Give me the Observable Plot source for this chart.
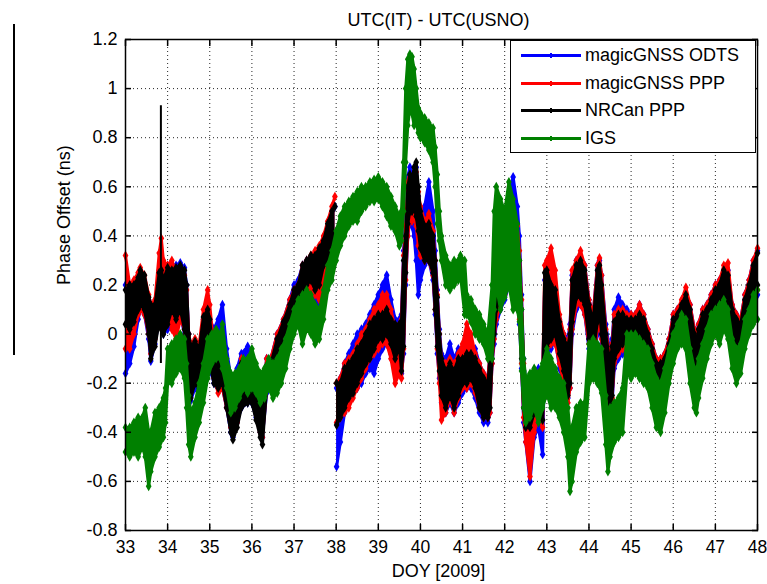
<!DOCTYPE html>
<html>
<head>
<meta charset="utf-8">
<script src="https://cdn.jsdelivr.net/npm/d3@7"></script>
<script src="https://cdn.jsdelivr.net/npm/@observablehq/plot@0.6"></script>
<style>
body{margin:0;background:#fff;}
#wrap{position:relative;width:767px;height:584px;font-family:"Liberation Sans",Arial,Helvetica,sans-serif;}
#artifact{position:absolute;left:13px;top:24px;width:2px;height:331px;background:#000;}
#legend{position:absolute;left:510px;top:40px;width:246px;height:113px;border:1px solid #000;background:#fff;box-sizing:border-box;}
.sw{position:absolute;left:10px;width:60px;height:3px;}
.mk{position:absolute;left:39px;width:2px;height:5px;}
.lab{position:absolute;left:74px;font-size:18px;line-height:20px;white-space:nowrap;color:#000;}
</style>
</head>
<body>
<div id="wrap"><div id="artifact"></div><div id="chart"></div><div id="legend"></div></div>
<script>
const titleText = "UTC(IT) - UTC(USNO)";
const xLabelText = "DOY [2009]";
const yLabelText = "Phase Offset (ns)";
const seriesNames = ["magicGNSS ODTS", "magicGNSS PPP", "NRCan PPP", "IGS"];
const seriesColors = ["#0000ff", "#ff0000", "#000000", "#008000"];
const xTicks = [33,34,35,36,37,38,39,40,41,42,43,44,45,46,47,48];
const yTicks = [-0.8,-0.6,-0.4,-0.2,0,0.2,0.4,0.6,0.8,1,1.2];

// [DOY, low edge, high edge] of each series' scatter band (ns)
const odts = [[33.00,-0.16,0.20],[33.10,-0.12,0.16],[33.20,-0.05,0.20],[33.30,0.06,0.22],[33.35,0.10,0.24],[33.45,0.08,0.22],[33.55,-0.02,0.14],[33.60,-0.11,0.10],[33.70,-0.04,0.12],[33.80,0.06,0.26],[33.85,0.04,0.27],[33.90,0.00,0.24],[34.00,0.02,0.28],[34.10,0.04,0.28],[34.20,0.02,0.28],[34.30,0.08,0.29],[34.40,0.00,0.27],[34.45,-0.12,0.20],[34.50,-0.22,0.00],[34.55,-0.27,-0.06],[34.65,-0.22,-0.04],[34.75,-0.24,-0.06],[34.85,-0.16,0.06],[34.95,-0.10,0.12],[35.00,-0.14,0.06],[35.10,-0.20,0.02],[35.20,-0.22,0.06],[35.30,-0.22,0.12],[35.40,-0.30,-0.06],[35.50,-0.40,-0.18],[35.55,-0.42,-0.24],[35.65,-0.36,-0.14],[35.75,-0.30,-0.08],[35.90,-0.28,-0.05],[36.00,-0.28,-0.10],[36.10,-0.34,-0.18],[36.20,-0.40,-0.22],[36.25,-0.42,-0.26],[36.35,-0.24,-0.10],[36.45,-0.20,-0.10],[36.60,-0.16,0.00],[36.75,-0.08,0.06],[36.90,0.00,0.14],[37.00,0.04,0.20],[37.10,0.06,0.22],[37.20,0.10,0.28],[37.30,0.12,0.30],[37.40,0.14,0.30],[37.50,0.12,0.30],[37.60,0.12,0.34],[37.70,0.22,0.38],[37.80,0.26,0.44],[37.90,0.34,0.50],[37.97,0.38,0.52],[37.99,null,null],[38.01,-0.54,-0.22],[38.10,-0.44,-0.18],[38.20,-0.32,-0.12],[38.30,-0.28,-0.08],[38.40,-0.24,-0.04],[38.50,-0.22,0.00],[38.60,-0.20,0.02],[38.70,-0.16,0.04],[38.80,-0.14,0.08],[38.90,-0.16,0.12],[39.00,-0.10,0.16],[39.10,-0.06,0.20],[39.20,-0.04,0.24],[39.30,-0.08,0.14],[39.40,-0.14,0.06],[39.50,-0.15,0.06],[39.55,-0.16,0.08],[39.60,-0.08,0.34],[39.65,0.20,0.48],[39.70,0.40,0.64],[39.75,0.46,0.68],[39.80,0.44,0.64],[39.85,0.40,0.66],[39.90,0.30,0.68],[39.95,0.16,0.56],[40.00,0.22,0.50],[40.10,0.28,0.52],[40.20,0.30,0.62],[40.30,0.22,0.50],[40.35,0.08,0.34],[40.40,-0.08,0.18],[40.45,-0.18,0.02],[40.50,-0.28,-0.08],[40.60,-0.32,-0.10],[40.70,-0.28,-0.04],[40.80,-0.32,-0.10],[40.90,-0.28,-0.06],[41.00,-0.24,-0.06],[41.10,-0.22,-0.02],[41.20,-0.22,-0.04],[41.30,-0.26,-0.06],[41.40,-0.32,-0.12],[41.50,-0.36,-0.16],[41.60,-0.36,-0.18],[41.65,-0.32,-0.08],[41.70,-0.12,0.08],[41.75,-0.04,0.20],[41.80,0.04,0.36],[41.90,0.10,0.46],[42.00,0.14,0.50],[42.10,0.20,0.56],[42.20,0.18,0.64],[42.30,0.14,0.52],[42.35,0.04,0.40],[42.40,-0.14,0.16],[42.45,-0.36,-0.10],[42.50,-0.44,-0.20],[42.60,-0.60,-0.18],[42.70,-0.42,-0.16],[42.80,-0.38,-0.14],[42.90,-0.49,-0.18],[42.95,-0.06,0.22],[43.00,-0.08,0.24],[43.10,-0.06,0.22],[43.20,-0.02,0.20],[43.30,-0.14,0.06],[43.40,-0.20,0.00],[43.50,-0.26,-0.02],[43.55,-0.22,0.04],[43.60,0.00,0.24],[43.70,0.10,0.30],[43.80,0.12,0.30],[43.90,0.08,0.28],[44.00,-0.06,0.14],[44.10,-0.12,0.08],[44.20,0.00,0.28],[44.25,0.04,0.30],[44.30,-0.04,0.24],[44.40,-0.24,0.04],[44.50,-0.32,-0.08],[44.55,-0.28,-0.02],[44.60,-0.14,0.10],[44.70,-0.10,0.15],[44.80,-0.08,0.12],[44.90,-0.06,0.10],[45.00,-0.08,0.08],[45.10,-0.08,0.08],[45.20,-0.06,0.12],[45.30,-0.10,0.08],[45.40,-0.16,0.02],[45.50,-0.22,-0.04],[45.60,-0.28,-0.10],[45.70,-0.28,-0.10],[45.80,-0.24,-0.08],[45.90,-0.18,-0.02],[46.00,-0.10,0.08],[46.10,-0.04,0.10],[46.20,-0.02,0.12],[46.30,0.02,0.16],[46.40,-0.08,0.12],[46.50,-0.14,0.02],[46.55,-0.16,-0.02],[46.60,-0.12,0.04],[46.70,-0.06,0.10],[46.80,-0.02,0.12],[46.90,0.02,0.16],[47.00,0.06,0.20],[47.10,0.08,0.22],[47.20,0.12,0.26],[47.30,0.08,0.26],[47.40,-0.04,0.12],[47.50,-0.08,0.08],[47.60,-0.08,0.06],[47.70,0.00,0.16],[47.80,0.06,0.22],[47.90,0.12,0.30],[48.00,0.16,0.34]];

const ppp = [[33.00,-0.06,0.32],[33.10,-0.06,0.20],[33.20,0.00,0.22],[33.30,0.08,0.25],[33.35,0.10,0.27],[33.45,0.08,0.24],[33.55,0.00,0.16],[33.60,-0.08,0.12],[33.70,-0.02,0.14],[33.80,0.10,0.33],[33.85,0.08,0.39],[33.90,0.04,0.30],[34.00,0.08,0.28],[34.10,0.02,0.30],[34.20,-0.02,0.25],[34.30,0.06,0.26],[34.40,0.02,0.24],[34.45,-0.08,0.18],[34.50,-0.18,0.00],[34.55,-0.24,-0.04],[34.65,-0.18,-0.02],[34.75,-0.20,-0.04],[34.85,-0.12,0.10],[34.95,-0.06,0.18],[35.00,-0.10,0.12],[35.10,-0.18,-0.06],[35.20,-0.24,-0.14],[35.30,-0.22,-0.10],[35.40,-0.30,-0.18],[35.50,-0.38,-0.22],[35.55,-0.40,-0.28],[35.65,-0.36,-0.20],[35.75,-0.28,-0.10],[35.90,-0.26,-0.12],[36.00,-0.26,-0.14],[36.10,-0.32,-0.20],[36.20,-0.40,-0.22],[36.25,-0.42,-0.24],[36.35,-0.22,-0.10],[36.45,-0.18,-0.10],[36.60,-0.14,0.00],[36.75,-0.06,0.06],[36.90,0.02,0.14],[37.00,0.06,0.18],[37.10,0.08,0.20],[37.20,0.14,0.28],[37.30,0.16,0.30],[37.40,0.16,0.32],[37.50,0.16,0.34],[37.60,0.14,0.36],[37.70,0.24,0.40],[37.80,0.28,0.46],[37.90,0.36,0.52],[37.97,0.40,0.56],[37.99,null,null],[38.01,-0.36,-0.20],[38.10,-0.34,-0.18],[38.20,-0.32,-0.12],[38.30,-0.30,-0.10],[38.40,-0.26,-0.08],[38.50,-0.22,-0.04],[38.60,-0.18,0.00],[38.70,-0.14,0.02],[38.80,-0.10,0.06],[38.90,-0.08,0.10],[39.00,-0.06,0.12],[39.10,-0.04,0.16],[39.20,-0.04,0.16],[39.30,-0.10,0.10],[39.40,-0.20,0.02],[39.50,-0.16,0.04],[39.55,-0.18,0.06],[39.60,-0.06,0.32],[39.65,0.22,0.44],[39.70,0.40,0.62],[39.75,0.48,0.64],[39.80,0.46,0.62],[39.85,0.48,0.64],[39.90,0.44,0.66],[39.95,0.36,0.58],[40.00,0.32,0.52],[40.10,0.30,0.46],[40.20,0.30,0.49],[40.30,0.24,0.42],[40.35,0.10,0.30],[40.40,-0.06,0.16],[40.45,-0.20,0.00],[40.50,-0.35,-0.10],[40.60,-0.32,-0.12],[40.70,-0.26,-0.10],[40.80,-0.32,-0.12],[40.90,-0.26,-0.08],[41.00,-0.22,-0.04],[41.10,-0.22,0.04],[41.20,-0.20,0.00],[41.30,-0.24,-0.08],[41.40,-0.30,-0.12],[41.50,-0.34,-0.16],[41.60,-0.34,-0.18],[41.65,-0.32,-0.08],[41.70,-0.12,0.08],[41.75,-0.02,0.18],[41.80,0.06,0.34],[41.90,0.12,0.44],[42.00,0.16,0.46],[42.10,0.22,0.48],[42.20,0.20,0.50],[42.30,0.16,0.44],[42.35,0.06,0.34],[42.40,-0.12,0.14],[42.45,-0.34,-0.12],[42.50,-0.44,-0.22],[42.60,-0.58,-0.20],[42.70,-0.40,-0.18],[42.80,-0.34,-0.16],[42.90,-0.38,-0.18],[42.95,-0.04,0.28],[43.00,-0.06,0.30],[43.10,-0.04,0.35],[43.20,-0.04,0.26],[43.30,-0.12,0.08],[43.40,-0.20,0.00],[43.50,-0.28,-0.04],[43.55,-0.22,0.02],[43.60,0.02,0.26],[43.70,0.12,0.30],[43.80,0.12,0.34],[43.90,0.08,0.28],[44.00,-0.04,0.14],[44.10,-0.10,0.08],[44.20,0.02,0.28],[44.25,0.06,0.31],[44.30,-0.02,0.24],[44.40,-0.22,0.02],[44.50,-0.32,-0.10],[44.55,-0.26,-0.04],[44.60,-0.12,0.08],[44.70,-0.08,0.10],[44.80,-0.06,0.10],[44.90,-0.04,0.08],[45.00,-0.06,0.08],[45.10,-0.08,0.08],[45.20,-0.06,0.12],[45.30,-0.08,0.08],[45.40,-0.14,0.02],[45.50,-0.20,-0.04],[45.60,-0.28,-0.10],[45.70,-0.28,-0.10],[45.80,-0.24,-0.08],[45.90,-0.18,-0.02],[46.00,-0.08,0.08],[46.10,-0.02,0.10],[46.20,0.00,0.14],[46.30,0.04,0.19],[46.40,-0.06,0.12],[46.50,-0.14,0.02],[46.55,-0.16,-0.02],[46.60,-0.12,0.04],[46.70,-0.04,0.10],[46.80,0.00,0.12],[46.90,0.04,0.16],[47.00,0.08,0.20],[47.10,0.10,0.22],[47.20,0.14,0.28],[47.30,0.10,0.29],[47.40,-0.02,0.12],[47.50,-0.06,0.08],[47.60,-0.08,0.06],[47.70,0.02,0.16],[47.80,0.08,0.22],[47.90,0.14,0.30],[48.00,0.18,0.35]];

const nrcan = [[33.00,0.04,0.18],[33.10,0.02,0.20],[33.20,0.05,0.20],[33.30,0.10,0.23],[33.35,0.12,0.26],[33.45,0.10,0.24],[33.55,0.00,0.15],[33.60,-0.10,0.12],[33.70,-0.05,0.12],[33.80,0.05,0.25],[33.85,0.02,0.26],[33.90,0.00,0.22],[34.00,0.04,0.27],[34.10,0.10,0.26],[34.20,0.06,0.27],[34.30,0.10,0.28],[34.40,0.02,0.26],[34.45,-0.10,0.20],[34.50,-0.20,0.00],[34.55,-0.26,-0.05],[34.65,-0.20,-0.03],[34.75,-0.22,-0.06],[34.85,-0.15,0.07],[34.95,-0.10,0.10],[35.00,-0.12,0.06],[35.10,-0.20,-0.10],[35.20,-0.22,-0.12],[35.30,-0.20,-0.10],[35.40,-0.30,-0.20],[35.50,-0.40,-0.25],[35.55,-0.43,-0.30],[35.65,-0.38,-0.22],[35.75,-0.30,-0.12],[35.90,-0.28,-0.14],[36.00,-0.28,-0.16],[36.10,-0.35,-0.22],[36.20,-0.42,-0.25],[36.25,-0.45,-0.28],[36.35,-0.22,-0.13],[36.45,-0.19,-0.12],[36.60,-0.14,-0.02],[36.75,-0.05,0.05],[36.90,0.05,0.12],[37.00,0.10,0.18],[37.10,0.12,0.20],[37.20,0.18,0.28],[37.30,0.20,0.30],[37.40,0.22,0.32],[37.50,0.18,0.32],[37.60,0.20,0.35],[37.70,0.28,0.38],[37.80,0.30,0.45],[37.90,0.38,0.50],[37.97,0.40,0.52],[37.99,null,null],[38.01,-0.37,-0.20],[38.10,-0.34,-0.20],[38.20,-0.30,-0.14],[38.30,-0.26,-0.12],[38.40,-0.24,-0.10],[38.50,-0.20,-0.06],[38.60,-0.16,-0.04],[38.70,-0.12,0.00],[38.80,-0.10,0.04],[38.90,-0.06,0.06],[39.00,-0.02,0.08],[39.10,-0.02,0.08],[39.20,0.00,0.10],[39.30,-0.04,0.06],[39.40,-0.10,0.04],[39.50,-0.05,0.04],[39.55,-0.15,0.05],[39.60,-0.05,0.30],[39.65,0.25,0.40],[39.70,0.45,0.60],[39.75,0.50,0.65],[39.80,0.50,0.62],[39.85,0.52,0.68],[39.90,0.48,0.70],[39.95,0.42,0.60],[40.00,0.35,0.50],[40.10,0.30,0.44],[40.20,0.30,0.45],[40.30,0.25,0.40],[40.35,0.10,0.30],[40.40,-0.05,0.15],[40.45,-0.15,0.00],[40.50,-0.25,-0.10],[40.60,-0.30,-0.15],[40.70,-0.25,-0.12],[40.80,-0.30,-0.15],[40.90,-0.25,-0.10],[41.00,-0.20,-0.10],[41.10,-0.20,-0.08],[41.20,-0.18,-0.08],[41.30,-0.22,-0.10],[41.40,-0.30,-0.14],[41.50,-0.34,-0.18],[41.60,-0.34,-0.20],[41.65,-0.30,-0.10],[41.70,-0.10,0.05],[41.75,0.00,0.15],[41.80,0.10,0.30],[41.90,0.15,0.40],[42.00,0.20,0.42],[42.10,0.26,0.42],[42.20,0.25,0.40],[42.30,0.20,0.36],[42.35,0.10,0.30],[42.40,-0.10,0.10],[42.45,-0.30,-0.15],[42.50,-0.38,-0.25],[42.60,-0.38,-0.22],[42.70,-0.32,-0.20],[42.80,-0.30,-0.18],[42.90,-0.35,-0.22],[42.95,0.00,0.25],[43.00,-0.05,0.26],[43.10,-0.02,0.20],[43.20,0.00,0.18],[43.30,-0.08,0.05],[43.40,-0.15,-0.02],[43.50,-0.25,-0.05],[43.55,-0.20,0.00],[43.60,0.05,0.22],[43.70,0.15,0.28],[43.80,0.15,0.30],[43.90,0.12,0.26],[44.00,-0.02,0.12],[44.10,-0.08,0.05],[44.20,0.05,0.26],[44.25,0.10,0.28],[44.30,0.00,0.20],[44.40,-0.20,0.00],[44.50,-0.30,-0.12],[44.55,-0.25,-0.05],[44.60,-0.10,0.05],[44.70,-0.06,0.08],[44.80,-0.04,0.08],[44.90,-0.02,0.06],[45.00,-0.04,0.06],[45.10,-0.06,0.06],[45.20,-0.04,0.08],[45.30,-0.06,0.06],[45.40,-0.12,0.00],[45.50,-0.18,-0.06],[45.60,-0.26,-0.12],[45.70,-0.26,-0.12],[45.80,-0.22,-0.10],[45.90,-0.16,-0.04],[46.00,-0.06,0.06],[46.10,0.00,0.08],[46.20,0.02,0.12],[46.30,0.06,0.16],[46.40,-0.05,0.10],[46.50,-0.12,0.00],[46.55,-0.14,-0.04],[46.60,-0.10,0.02],[46.70,-0.02,0.08],[46.80,0.02,0.10],[46.90,0.06,0.14],[47.00,0.10,0.18],[47.10,0.12,0.20],[47.20,0.16,0.26],[47.30,0.12,0.24],[47.40,0.00,0.10],[47.50,-0.05,0.06],[47.60,-0.06,0.04],[47.70,0.04,0.14],[47.80,0.10,0.20],[47.90,0.16,0.28],[48.00,0.20,0.33]];

const igs = [[33.00,-0.48,-0.38],[33.10,-0.50,-0.38],[33.20,-0.48,-0.36],[33.30,-0.50,-0.34],[33.40,-0.46,-0.34],[33.47,-0.50,-0.30],[33.55,-0.62,-0.40],[33.60,-0.56,-0.40],[33.70,-0.50,-0.32],[33.80,-0.46,-0.30],[33.90,-0.42,-0.26],[33.95,-0.36,-0.22],[34.00,-0.20,-0.06],[34.10,-0.20,-0.04],[34.20,-0.16,-0.02],[34.30,-0.14,0.00],[34.40,-0.18,-0.02],[34.45,-0.30,-0.12],[34.50,-0.45,-0.25],[34.55,-0.50,-0.32],[34.65,-0.42,-0.28],[34.75,-0.36,-0.20],[34.85,-0.28,-0.12],[34.95,-0.18,-0.02],[35.05,-0.12,0.00],[35.15,-0.10,0.02],[35.25,-0.10,0.00],[35.30,-0.14,0.04],[35.40,-0.22,-0.10],[35.50,-0.32,-0.16],[35.60,-0.30,-0.16],[35.70,-0.26,-0.14],[35.80,-0.22,-0.10],[35.90,-0.24,-0.10],[36.00,-0.22,-0.06],[36.10,-0.24,-0.12],[36.20,-0.28,-0.16],[36.30,-0.26,-0.14],[36.40,-0.22,-0.10],[36.50,-0.26,-0.12],[36.60,-0.24,-0.10],[36.70,-0.20,-0.06],[36.80,-0.14,-0.02],[36.90,-0.06,0.04],[37.00,0.00,0.10],[37.10,0.04,0.14],[37.20,-0.04,0.16],[37.30,0.02,0.18],[37.40,0.00,0.16],[37.50,-0.04,0.12],[37.60,-0.02,0.10],[37.70,0.06,0.18],[37.80,0.18,0.28],[37.90,0.22,0.34],[38.00,0.30,0.42],[38.10,0.36,0.48],[38.20,0.40,0.52],[38.30,0.44,0.54],[38.40,0.46,0.56],[38.50,0.46,0.58],[38.60,0.50,0.60],[38.70,0.52,0.60],[38.80,0.54,0.62],[38.90,0.54,0.63],[39.00,0.55,0.64],[39.10,0.52,0.62],[39.20,0.48,0.60],[39.30,0.44,0.56],[39.40,0.42,0.52],[39.50,0.36,0.48],[39.55,0.38,0.50],[39.60,0.50,0.70],[39.65,0.70,1.00],[39.70,0.85,1.12],[39.75,0.92,1.14],[39.80,0.90,1.13],[39.85,0.85,1.08],[39.90,0.86,1.00],[39.95,0.82,0.92],[40.00,0.80,0.90],[40.10,0.78,0.88],[40.20,0.75,0.86],[40.30,0.70,0.84],[40.35,0.60,0.76],[40.40,0.45,0.65],[40.45,0.38,0.50],[40.50,0.30,0.40],[40.60,0.20,0.32],[40.70,0.18,0.28],[40.80,0.20,0.30],[40.90,0.22,0.30],[40.95,0.24,0.32],[41.05,0.08,0.30],[41.10,0.08,0.16],[41.20,0.05,0.14],[41.30,0.00,0.10],[41.40,-0.02,0.08],[41.50,-0.04,0.04],[41.60,-0.10,0.00],[41.70,-0.10,0.20],[41.75,0.10,0.50],[41.80,0.20,0.60],[41.90,0.10,0.55],[42.00,0.15,0.50],[42.10,0.20,0.62],[42.20,0.10,0.55],[42.30,0.10,0.45],[42.35,0.05,0.30],[42.40,-0.15,0.10],[42.45,-0.30,-0.10],[42.50,-0.36,-0.18],[42.60,-0.34,-0.16],[42.70,-0.30,-0.14],[42.80,-0.36,-0.16],[42.90,-0.30,-0.12],[43.00,-0.24,-0.06],[43.10,-0.30,-0.10],[43.20,-0.30,-0.14],[43.30,-0.34,-0.18],[43.40,-0.40,-0.20],[43.50,-0.50,-0.30],[43.55,-0.64,-0.40],[43.60,-0.60,-0.38],[43.70,-0.48,-0.30],[43.80,-0.44,-0.28],[43.90,-0.42,-0.28],[44.00,-0.20,-0.04],[44.10,-0.18,-0.02],[44.20,-0.20,-0.04],[44.30,-0.24,-0.06],[44.40,-0.45,-0.25],[44.45,-0.56,-0.35],[44.50,-0.50,-0.30],[44.60,-0.44,-0.28],[44.70,-0.42,-0.26],[44.80,-0.40,-0.22],[44.90,-0.16,0.00],[45.00,-0.18,0.00],[45.10,-0.16,0.00],[45.20,-0.18,-0.02],[45.30,-0.20,-0.04],[45.40,-0.22,-0.06],[45.50,-0.30,-0.12],[45.60,-0.38,-0.18],[45.70,-0.40,-0.20],[45.80,-0.32,-0.14],[45.90,-0.20,-0.06],[46.00,-0.12,0.00],[46.10,-0.06,0.04],[46.20,-0.04,0.08],[46.30,-0.06,0.06],[46.40,-0.20,-0.06],[46.50,-0.30,-0.14],[46.55,-0.32,-0.16],[46.60,-0.26,-0.10],[46.70,-0.18,-0.04],[46.80,-0.10,0.02],[46.90,-0.04,0.08],[47.00,0.00,0.10],[47.10,-0.04,0.12],[47.20,0.02,0.14],[47.30,-0.02,0.10],[47.40,-0.14,-0.02],[47.50,-0.20,-0.06],[47.60,-0.16,-0.04],[47.70,-0.06,0.06],[47.80,0.00,0.10],[47.90,0.04,0.16],[48.00,0.06,0.18]];

// single NRCan outlier excursion near DOY 33.84
const nrcanSpike = [[33.84, -0.12, 0.93]];

const seriesData = [odts, ppp, nrcan, igs];

function band(raw, color) {
  const rows = raw.map(([d, lo, hi]) => ({d, lo, hi}));
  return [
    Plot.areaY(rows, {x: "d", y1: "lo", y2: "hi", fill: color}),
    Plot.line(rows, {x: "d", y: "lo", stroke: color, strokeWidth: 3}),
    Plot.line(rows, {x: "d", y: "hi", stroke: color, strokeWidth: 3}),
    Plot.dot(rows, {x: "d", y: "lo", symbol: "diamond", r: 3, fill: color, stroke: "none"}),
    Plot.dot(rows, {x: "d", y: "hi", symbol: "diamond", r: 3, fill: color, stroke: "none"})
  ];
}

const FONT = '"Liberation Sans", Arial, Helvetica, sans-serif';
const fmt = d => String(d);
const gridStyle = {stroke: "#000", strokeOpacity: 0.85, strokeWidth: 1, strokeDasharray: "1,3"};

const marks = [
  Plot.gridX(xTicks, gridStyle),
  Plot.gridY(yTicks, gridStyle)
];
seriesData.forEach((s, i) => {
  marks.push(...band(s, seriesColors[i]));
  if (i === 2) {
    marks.push(Plot.ruleX(nrcanSpike.map(([d, lo, hi]) => ({d, lo, hi})), {x: "d", y1: "lo", y2: "hi", stroke: "#000", strokeWidth: 2}));
  }
});
marks.push(
  Plot.frame({stroke: "#000", strokeWidth: 1.5}),
  Plot.axisX({anchor: "bottom", ticks: xTicks, tickFormat: fmt, tickSize: -6, tickPadding: 16, fontSize: 17.5, label: null, strokeWidth: 1.5}),
  Plot.axisX({anchor: "top", ticks: xTicks, tickFormat: () => "", tickSize: -6, label: null, strokeWidth: 1.5}),
  Plot.axisY({anchor: "left", ticks: yTicks, tickFormat: fmt, tickSize: -6, tickPadding: 14, fontSize: 18, label: null, strokeWidth: 1.5}),
  Plot.axisY({anchor: "right", ticks: yTicks, tickFormat: () => "", tickSize: -6, label: null, strokeWidth: 1.5}),
  Plot.text([titleText], {frameAnchor: "top", dy: -14, dx: -3, lineAnchor: "bottom", fontSize: 18}),
  Plot.text([xLabelText], {frameAnchor: "bottom", dy: 46, dx: -3, lineAnchor: "bottom", fontSize: 18}),
  Plot.text([yLabelText], {frameAnchor: "left", dx: -68, rotate: -90, lineAnchor: "top", fontSize: 18})
);

const chart = Plot.plot({
  width: 767,
  height: 584,
  marginLeft: 125,
  marginRight: 10,
  marginTop: 39,
  marginBottom: 54,
  style: {fontFamily: FONT, fontSize: "18px", color: "#000", background: "#fff"},
  x: {domain: [33, 48], label: null},
  y: {domain: [-0.8, 1.2], label: null},
  marks
});
document.getElementById("chart").appendChild(chart);

// legend
const legend = document.getElementById("legend");
seriesNames.forEach((name, i) => {
  const top = 13 + i * 27.5;
  const sw = document.createElement("div");
  sw.className = "sw";
  sw.style.top = (top) + "px";
  sw.style.background = seriesColors[i];
  legend.appendChild(sw);
  const mk = document.createElement("div");
  mk.className = "mk";
  mk.style.top = (top - 1) + "px";
  mk.style.background = seriesColors[i];
  legend.appendChild(mk);
  const lab = document.createElement("div");
  lab.className = "lab";
  lab.style.top = (top - 9) + "px";
  lab.textContent = name;
  legend.appendChild(lab);
});
</script>
</body>
</html>
